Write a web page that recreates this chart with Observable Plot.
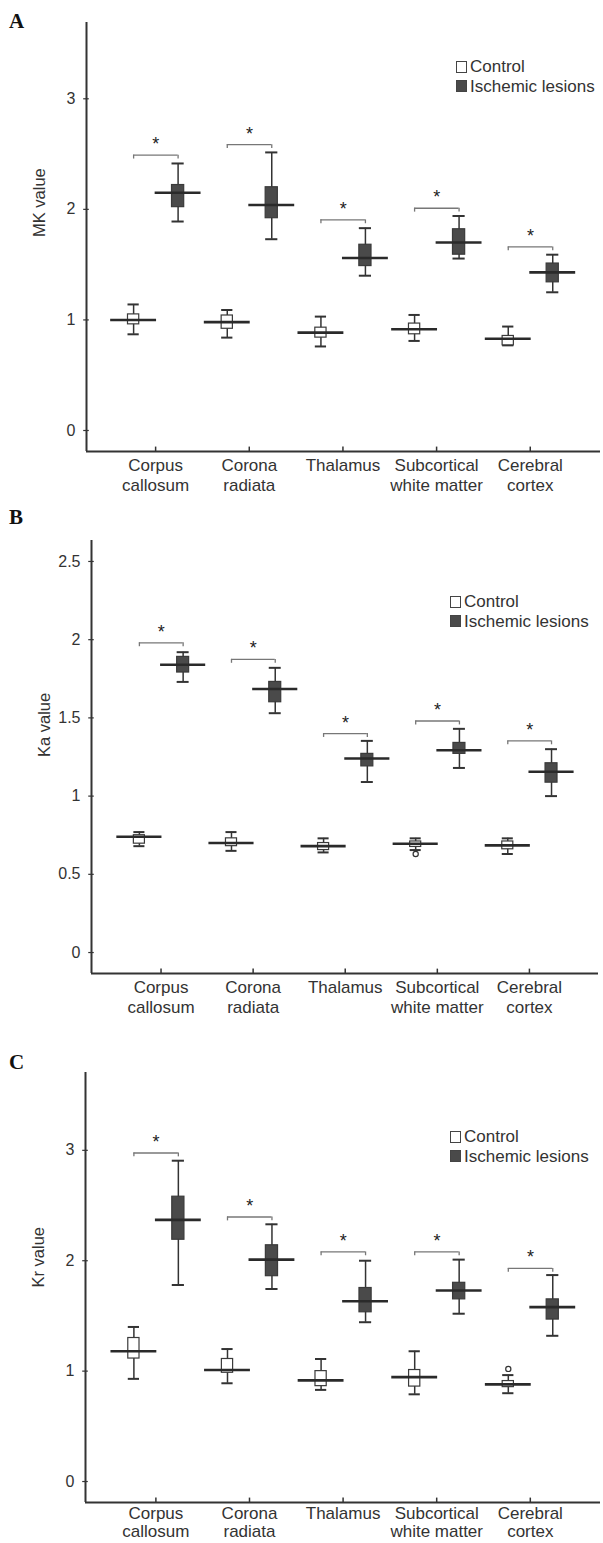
<!DOCTYPE html>
<html>
<head>
<meta charset="utf-8">
<script src="https://cdn.jsdelivr.net/npm/d3@7"></script>
<script src="https://cdn.jsdelivr.net/npm/@observablehq/plot@0.6"></script>
<style>
  html, body { margin: 0; padding: 0; background: #fff; }
  #root { position: relative; width: 603px; height: 1543px; font-family: "Liberation Sans", Arial, sans-serif; color: #333; }
  .letter { position: absolute; font-family: "Liberation Serif", "Times New Roman", serif; font-weight: bold; font-size: 21px; color: #111; }
  .legend { position: absolute; font-size: 17px; line-height: 19.5px; color: #333; }
  .legend .row { display: flex; align-items: center; white-space: nowrap; }
  .legend .sw { display: inline-block; width: 11px; height: 12px; border: 1px solid #444; margin-right: 3px; box-sizing: border-box; }
</style>
</head>
<body>
<div id="root"></div>
<script>
// ---------- data ----------
const categories = ["Corpus callosum", "Corona radiata", "Thalamus", "Subcortical white matter", "Cerebral cortex"];
const tickLabels = ["Corpus\ncallosum", "Corona\nradiata", "Thalamus", "Subcortical\nwhite matter", "Cerebral\ncortex"];
const groups = ["Control", "Ischemic lesions"];

// Panel A: MK value
const mkControlLow  = [0.87, 0.84, 0.76, 0.81, 0.77];
const mkControlQ1   = [0.96, 0.92, 0.84, 0.87, 0.77];
const mkControlMed  = [1.00, 0.98, 0.885, 0.915, 0.83];
const mkControlQ3   = [1.05, 1.04, 0.93, 0.967, 0.855];
const mkControlHigh = [1.14, 1.09, 1.03, 1.045, 0.94];
const mkIschLow     = [1.89, 1.73, 1.40, 1.555, 1.25];
const mkIschQ1      = [2.02, 1.92, 1.487, 1.59, 1.34];
const mkIschMed     = [2.15, 2.04, 1.56, 1.70, 1.43];
const mkIschQ3      = [2.22, 2.20, 1.68, 1.82, 1.51];
const mkIschHigh    = [2.415, 2.515, 1.83, 1.94, 1.59];
const mkBracket     = [2.49, 2.585, 1.905, 2.01, 1.66];
const mkTicks       = [0, 1, 2, 3];

// Panel B: Ka value
const kaControlLow  = [0.68, 0.65, 0.64, 0.655, 0.63];
const kaControlQ1   = [0.696, 0.68, 0.655, 0.675, 0.66];
const kaControlMed  = [0.74, 0.70, 0.68, 0.695, 0.685];
const kaControlQ3   = [0.75, 0.73, 0.70, 0.71, 0.71];
const kaControlHigh = [0.77, 0.77, 0.73, 0.73, 0.73];
const kaIschLow     = [1.73, 1.53, 1.09, 1.18, 1.00];
const kaIschQ1      = [1.79, 1.60, 1.19, 1.27, 1.086];
const kaIschMed     = [1.84, 1.685, 1.24, 1.293, 1.156];
const kaIschQ3      = [1.89, 1.73, 1.27, 1.34, 1.21];
const kaIschHigh    = [1.92, 1.82, 1.353, 1.43, 1.30];
const kaBracket     = [1.98, 1.874, 1.40, 1.48, 1.353];
const kaOutliers    = [{cat: 3, group: 0, value: 0.63}];
const kaTicks       = [0, 0.5, 1, 1.5, 2, 2.5];

// Panel C: Kr value
const krControlLow  = [0.93, 0.89, 0.83, 0.79, 0.80];
const krControlQ1   = [1.114, 0.985, 0.864, 0.86, 0.855];
const krControlMed  = [1.18, 1.01, 0.916, 0.946, 0.88];
const krControlQ3   = [1.30, 1.11, 1.00, 1.01, 0.91];
const krControlHigh = [1.40, 1.20, 1.11, 1.18, 0.964];
const krIschLow     = [1.78, 1.744, 1.443, 1.52, 1.32];
const krIschQ1      = [2.19, 1.86, 1.533, 1.65, 1.467];
const krIschMed     = [2.37, 2.01, 1.633, 1.73, 1.58];
const krIschQ3      = [2.58, 2.14, 1.753, 1.80, 1.65];
const krIschHigh    = [2.906, 2.33, 2.00, 2.01, 1.87];
const krBracket     = [2.976, 2.396, 2.08, 2.08, 1.93];
const krOutliers    = [{cat: 4, group: 0, value: 1.02}];
const krTicks       = [0, 1, 2, 3];

// ---------- helpers ----------
function buildBoxes(group, lo, q1, med, q3, hi) {
  return lo.map((_, i) => ({cat: i, group, lo: lo[i], q1: q1[i], med: med[i], q3: q3[i], hi: hi[i]}));
}

const groupOffset = [-0.235, 0.24];   // position of each group around its category
const boxHalf = [0.06, 0.065];
const medianHalf = 0.245;

function panel(opts) {
  const boxes = buildBoxes(0, ...opts.control).concat(buildBoxes(1, ...opts.ischemic));
  const pos = d => d.cat + groupOffset[d.group];
  const brackets = opts.bracket.map((b, i) => ({cat: i, y: b}));
  const [y0, y1] = opts.yDomain;
  const [x0, x1] = opts.xDomain;
  const catIdx = categories.map((_, i) => i);

  return Plot.plot({
    width: 603,
    height: opts.height,
    marginTop: opts.marginTop,
    marginBottom: opts.marginBottom,
    marginLeft: opts.marginLeft,
    marginRight: opts.marginRight,
    style: {fontFamily: '"Liberation Sans", Arial, sans-serif', color: "#333", background: "transparent", overflow: "visible"},
    x: {type: "linear", domain: [x0, x1], axis: null},
    y: {type: "linear", domain: [y0, y1], axis: null},
    marks: [
      // axis lines
      Plot.ruleX([x0], {x: d => d, y1: y0, y2: y1, stroke: "#333", strokeWidth: 2}),
      Plot.ruleY([y0], {y: d => d, x1: x0, x2: x1, stroke: "#333", strokeWidth: 2}),
      // y ticks crossing the axis
      Plot.ruleY(opts.yTicks, {y: d => d, x1: x0 - opts.yTickLen, x2: x0 + opts.yTickLen, stroke: "#333", strokeWidth: 1.2}),
      Plot.text(opts.yTicks, {
        y: d => d, frameAnchor: "left", textAnchor: "end", dx: -11,
        fontSize: 16, fill: "#333", text: d => String(d)
      }),
      Plot.text([opts.yLabel], {
        frameAnchor: "left", rotate: -90, dx: -47,
        fontSize: 16.5, fill: "#333", text: d => d
      }),
      // x ticks pointing up from the x axis
      Plot.ruleX(catIdx, {x: d => d, y1: y0, y2: y0 + opts.xTickLen, stroke: "#333", strokeWidth: 1.5}),
      // x labels
      Plot.text(catIdx, {
        x: d => d, frameAnchor: "bottom", lineAnchor: "top", dy: opts.labelDy,
        lineHeight: opts.labelLineHeight, fontSize: 17, fill: "#333",
        text: d => tickLabels[d]
      }),
      // whiskers
      Plot.ruleX(boxes, {x: pos, y1: "lo", y2: "hi", stroke: "#333", strokeWidth: 1.5}),
      Plot.ruleY(boxes, {y: "lo", x1: d => pos(d) - boxHalf[d.group], x2: d => pos(d) + boxHalf[d.group], stroke: "#333", strokeWidth: 2}),
      Plot.ruleY(boxes, {y: "hi", x1: d => pos(d) - boxHalf[d.group], x2: d => pos(d) + boxHalf[d.group], stroke: "#333", strokeWidth: 2}),
      // boxes
      Plot.rect(boxes, {
        x1: d => pos(d) - boxHalf[d.group], x2: d => pos(d) + boxHalf[d.group],
        y1: "q1", y2: "q3",
        fill: d => d.group === 0 ? "#ffffff" : "#4a4a4a",
        stroke: "#3a3a3a", strokeWidth: 1.2
      }),
      // medians
      Plot.ruleY(boxes, {y: "med", x1: d => pos(d) - medianHalf, x2: d => pos(d) + medianHalf, stroke: "#2a2a2a", strokeWidth: 2.6}),
      // outliers
      Plot.dot(opts.outliers, {x: pos, y: "value", r: 2.6, fill: "#fff", stroke: "#333", strokeWidth: 1.2}),
      // significance brackets
      Plot.ruleY(brackets, {y: "y", x1: d => d.cat + groupOffset[0], x2: d => d.cat + groupOffset[1], stroke: "#777", strokeWidth: 1.3}),
      Plot.ruleX(brackets, {x: d => d.cat + groupOffset[0], y1: d => d.y - opts.bracketTick, y2: "y", stroke: "#777", strokeWidth: 1.3}),
      Plot.ruleX(brackets, {x: d => d.cat + groupOffset[1], y1: d => d.y - opts.bracketTick, y2: "y", stroke: "#777", strokeWidth: 1.3}),
      Plot.text(brackets, {x: d => d.cat + (groupOffset[0] + groupOffset[1]) / 2, y: "y", text: () => "*", dy: -5, fontSize: 18, fill: "#222", lineAnchor: "bottom"})
    ]
  });
}

function addPanel(root, top, svg) {
  svg.style.position = "absolute";
  svg.style.top = top + "px";
  svg.style.left = "0px";
  root.appendChild(svg);
}
function addLetter(root, txt, left, top) {
  const d = document.createElement("div");
  d.className = "letter"; d.textContent = txt;
  d.style.left = left + "px"; d.style.top = top + "px";
  root.appendChild(d);
}
function addLegend(root, left, top, fontSize) {
  const d = document.createElement("div");
  d.className = "legend";
  d.style.left = left + "px"; d.style.top = top + "px";
  d.style.fontSize = fontSize + "px";
  groups.forEach((g, i) => {
    const row = document.createElement("div");
    row.className = "row";
    const sw = document.createElement("span");
    sw.className = "sw";
    sw.style.background = i === 0 ? "#fff" : "#4a4a4a";
    row.appendChild(sw);
    const t = document.createElement("span");
    t.textContent = g;
    row.appendChild(t);
    d.appendChild(row);
  });
  root.appendChild(d);
}

const root = document.getElementById("root");

// Panel A
addPanel(root, 0, panel({
  height: 500, marginTop: 22, marginBottom: 49, marginLeft: 86, marginRight: 3,
  xDomain: [-0.738, 4.75], yDomain: [-0.19, 3.69],
  yTicks: mkTicks, yLabel: "MK value", xTickLen: 0.04, yTickLen: 0.03, bracketTick: 0.035,
  labelDy: 5, labelLineHeight: 1.18,
  control: [mkControlLow, mkControlQ1, mkControlMed, mkControlQ3, mkControlHigh],
  ischemic: [mkIschLow, mkIschQ1, mkIschMed, mkIschQ3, mkIschHigh],
  bracket: mkBracket, outliers: []
}));
addLetter(root, "A", 9, 9);
addLegend(root, 456, 57, 17);

// Panel B
addPanel(root, 500, panel({
  height: 525, marginTop: 40, marginBottom: 52, marginLeft: 91, marginRight: 5,
  xDomain: [-0.755, 4.75], yDomain: [-0.134, 2.634],
  yTicks: kaTicks, yLabel: "Ka value", xTickLen: 0.028, yTickLen: 0.03, bracketTick: 0.025,
  labelDy: 5, labelLineHeight: 1.18,
  control: [kaControlLow, kaControlQ1, kaControlMed, kaControlQ3, kaControlHigh],
  ischemic: [kaIschLow, kaIschQ1, kaIschMed, kaIschQ3, kaIschHigh],
  bracket: kaBracket, outliers: kaOutliers
}));
addLetter(root, "B", 9, 505);
addLegend(root, 450, 592, 17);

// Panel C
addPanel(root, 1025, panel({
  height: 518, marginTop: 47, marginBottom: 41, marginLeft: 85, marginRight: 3,
  xDomain: [-0.752, 4.75], yDomain: [-0.19, 3.705],
  yTicks: krTicks, yLabel: "Kr value", xTickLen: 0.04, yTickLen: 0.03, bracketTick: 0.035,
  labelDy: 3, labelLineHeight: 1.08,
  control: [krControlLow, krControlQ1, krControlMed, krControlQ3, krControlHigh],
  ischemic: [krIschLow, krIschQ1, krIschMed, krIschQ3, krIschHigh],
  bracket: krBracket, outliers: krOutliers
}));
addLetter(root, "C", 9, 1050);
addLegend(root, 450, 1127, 17);
</script>
</body>
</html>
